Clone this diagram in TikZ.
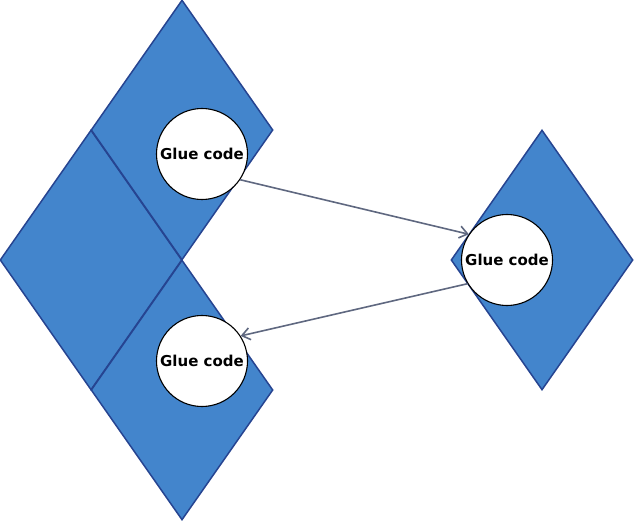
\documentclass[tikz,border=0pt]{standalone}
\usepackage{fontspec}
\setsansfont{DejaVu Sans}
\usetikzlibrary{shapes.geometric,arrows.meta}

\definecolor{tileblue}{RGB}{67,133,204}
\definecolor{tileedge}{RGB}{38,68,145}
\definecolor{linkgray}{RGB}{95,104,128}

\begin{document}
\begin{tikzpicture}[x=1pt,y=-1pt,
  tile/.style={diamond,draw=tileedge,fill=tileblue,line width=1.5pt,
    minimum width=182pt,minimum height=260pt,inner sep=0pt},
  glue/.style={circle,draw=black,fill=white,line width=1.1pt,
    minimum size=91pt,inner sep=0pt,font=\sffamily\bfseries\fontsize{15}{17}\selectfont},
  link/.style={-{Straight Barb[length=8pt,width=12pt]},draw=linkgray,line width=1.6pt}]
\useasboundingbox (0,0) rectangle (634,521);

\node[tile] (tileL) at (91,260) {};
\node[tile] (tileT) at (182,130) {};
\node[tile] (tileB) at (182,390) {};
\node[tile] (tileR) at (542,260) {};

\node[glue] (glueT) at (202,154) {Glue code};
\node[glue] (glueR) at (507,260) {Glue code};
\node[glue] (glueB) at (202,361) {Glue code};

\draw[link] (glueT.-34) -- (glueR.146);
\draw[link] (glueR.211) -- (glueB.33);
\end{tikzpicture}
\end{document}
